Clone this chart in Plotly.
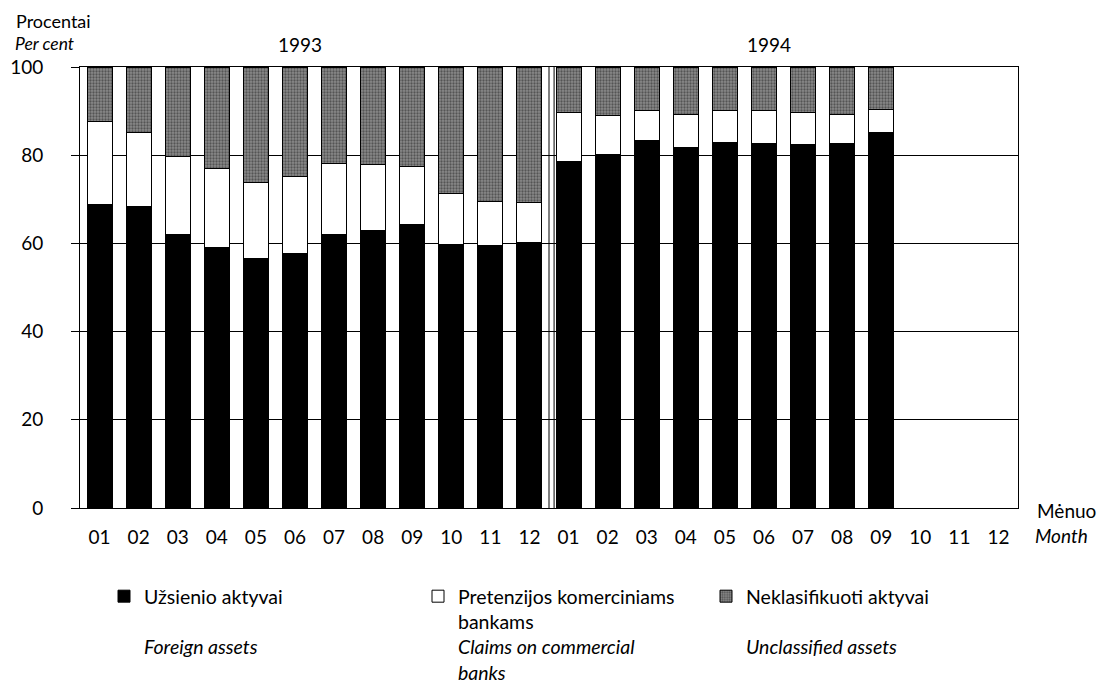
import plotly.graph_objects as go

months = ["01", "02", "03", "04", "05", "06", "07", "08", "09", "10", "11", "12"]
tick_labels = months + months
years = ["1993", "1994"]

foreign = [68.9, 68.4, 62.0, 59.1, 56.6, 57.7, 62.1, 62.9, 64.3, 59.8, 59.5, 60.2,
           78.6, 80.2, 83.4, 81.7, 82.8, 82.7, 82.4, 82.7, 85.2, None, None, None]
claims = [18.7, 16.7, 17.8, 17.9, 17.3, 17.4, 16.0, 15.1, 13.2, 11.6, 9.9, 9.0,
          11.0, 8.7, 6.8, 7.5, 7.4, 7.5, 7.3, 6.5, 5.2, None, None, None]
unclassified = [12.4, 14.9, 20.2, 23.0, 26.1, 24.9, 21.9, 22.0, 22.5, 28.6, 30.6, 30.8,
                10.4, 11.1, 9.8, 10.8, 9.8, 9.8, 10.3, 10.8, 9.6, None, None, None]

x = list(range(len(tick_labels)))
FONT = "Lato"

# page is shifted by the default 8px body margin of the html page
OFF = 8
W, H = 1106, 686
PL, PR, PT, PB = 80, 1018, 67, 508  # desired plot area on the page


def cx(px):
    return (px - OFF) / W


def cy(py):
    return 1 - (py - OFF) / H


fig = go.Figure()
fig.add_trace(go.Bar(
    x=x, y=foreign, name="Užsienio aktyvai<br> <br><i>Foreign assets</i>",
    marker=dict(color="#000000", line=dict(color="#000000", width=1)),
    width=0.64, legend="legend", showlegend=True))
fig.add_trace(go.Bar(
    x=x, y=claims,
    name="Pretenzijos komerciniams<br>bankams<br><i>Claims on commercial</i><br><i>banks</i>",
    marker=dict(color="#ffffff", line=dict(color="#000000", width=1)),
    width=0.64, legend="legend2", showlegend=True))
fig.add_trace(go.Bar(
    x=x, y=unclassified, name="Neklasifikuoti aktyvai<br> <br><i>Unclassified assets</i>",
    marker=dict(color="#6e6e6e", line=dict(color="#000000", width=1),
                pattern=dict(shape=".", fgcolor="#1e1e1e", bgcolor="#8a8a8a",
                             size=3, solidity=0.45)),
    width=0.64, legend="legend3", showlegend=True))

# double separator between years
for xs in (11.5, 11.63):
    fig.add_shape(type="line", x0=xs, x1=xs, y0=0, y1=100, xref="x", yref="y",
                  line=dict(color="#000000", width=1))

legend_common = dict(orientation="v", xanchor="left", yanchor="top", valign="top",
                     xref="container", yref="container",
                     bgcolor="rgba(0,0,0,0)", font=dict(family=FONT, size=19.5, color="#000"),
                     tracegroupgap=0, itemwidth=30)

LEG_TOP = 577
fig.update_layout(
    width=W, height=H,
    margin=dict(l=PL - OFF, r=W - (PR - OFF), t=PT - OFF, b=H - (PB - OFF), autoexpand=False),
    paper_bgcolor="#ffffff", plot_bgcolor="#ffffff",
    barmode="stack", bargap=0.36, showlegend=True,
    font=dict(family=FONT, size=19, color="#000"),
    legend=dict(x=cx(104), y=cy(LEG_TOP), **legend_common),
    legend2=dict(x=cx(418), y=cy(LEG_TOP), **legend_common),
    legend3=dict(x=cx(706), y=cy(LEG_TOP), **legend_common),
    xaxis=dict(range=[-0.5, 23.5], tickmode="array", tickvals=x, ticktext=tick_labels,
               showgrid=False, showline=True, linecolor="#000", linewidth=1, mirror=True,
               ticks="", ticklabelstandoff=12,
               tickfont=dict(family=FONT, size=19), zeroline=False),
    yaxis=dict(range=[0, 100], tickvals=[0, 20, 40, 60, 80, 100],
               showgrid=True, gridcolor="#000", gridwidth=1,
               showline=True, linecolor="#000", linewidth=1, mirror=True,
               ticks="outside", ticklen=8, tickcolor="#000", ticklabelstandoff=24,
               tickfont=dict(family=FONT, size=19), zeroline=False),
)

annotations = [
    dict(text="Procentai", x=14, y=8.2, anchor="top", size=18),
    dict(text="<i>Per cent</i>", x=13, y=43.2, anchor="middle", size=17.5),
    dict(text="Mėnuo", x=1035, y=510, anchor="middle", size=19),
    dict(text="<i>Month</i>", x=1033, y=535, anchor="middle", size=19),
]
for a in annotations:
    fig.add_annotation(text=a["text"], xref="paper", yref="paper",
                       x=(a["x"] - PL) / (PR - PL), y=1 - (a["y"] - PT) / (PB - PT),
                       xanchor="left", yanchor=a["anchor"], showarrow=False,
                       font=dict(family=FONT, size=a["size"], color="#000"))

for i, yr in enumerate(years):
    fig.add_annotation(text=yr, x=5.5 + 12 * i, y=100, xref="x", yref="y",
                       xshift=-15, yshift=23, yanchor="middle", showarrow=False,
                       font=dict(family=FONT, size=19, color="#000"))

fig.write_html("out.html")
